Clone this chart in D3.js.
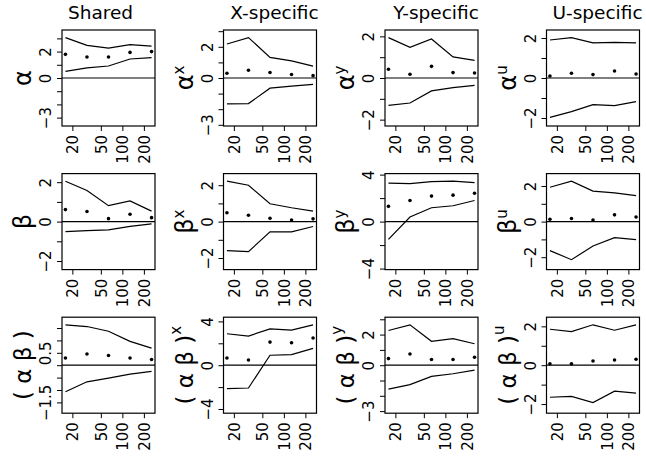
<!DOCTYPE html>
<html>
<head>
<meta charset="utf-8">
<script src="https://cdn.jsdelivr.net/npm/d3@7"></script>
<style>
  body { margin: 0; background: #fff; }
  svg { display: block; font-family: "DejaVu Sans", sans-serif; }
</style>
</head>
<body>
<div id="chart"></div>
<script>
// sample sizes on the (log) x axis and the labelled ticks
var sampleSizes = [16, 32, 64, 128, 256];
var xTicks = [20, 50, 100, 200];

var colTitles = ["Shared", "X-specific", "Y-specific", "U-specific"];
var colSup = ["", "x", "y", "u"];

// estimates and interval bounds, one inner array per column (shared, x, y, u)
var alphaUpper = [
  [3.06, 2.47, 2.27, 2.53, 2.42],
  [2.18, 2.59, 1.32, 1.10, 0.76],
  [1.94, 1.47, 1.87, 1.01, 0.85],
  [1.90, 2.02, 1.76, 1.78, 1.76]
];
var alphaEst = [
  [1.79, 1.59, 1.59, 1.94, 2.00],
  [0.30, 0.50, 0.35, 0.22, 0.15],
  [0.42, 0.18, 0.56, 0.26, 0.24],
  [0.10, 0.24, 0.17, 0.35, 0.20]
];
var alphaLower = [
  [0.50, 0.76, 0.91, 1.44, 1.54],
  [-1.66, -1.64, -0.65, -0.52, -0.41],
  [-1.31, -1.20, -0.62, -0.46, -0.35],
  [-1.97, -1.68, -1.33, -1.38, -1.18]
];

var betaUpper = [
  [2.05, 1.58, 0.81, 1.05, 0.53],
  [2.22, 2.00, 0.98, 0.76, 0.58],
  [3.27, 3.24, 3.41, 3.44, 3.32],
  [1.93, 2.27, 1.71, 1.61, 1.46]
];
var betaEst = [
  [0.61, 0.51, 0.15, 0.37, 0.20],
  [0.49, 0.35, 0.18, 0.09, 0.15],
  [1.30, 1.80, 2.17, 2.25, 2.42],
  [0.13, 0.17, 0.09, 0.38, 0.26]
];
var betaLower = [
  [-0.51, -0.46, -0.42, -0.24, -0.12],
  [-1.60, -1.65, -0.56, -0.56, -0.27],
  [-1.52, 0.39, 1.18, 1.35, 1.80],
  [-1.63, -2.14, -1.37, -0.90, -1.01]
];

var abUpper = [
  [1.63, 1.56, 1.37, 0.96, 0.69],
  [2.87, 2.66, 3.32, 3.20, 3.69],
  [2.27, 2.64, 1.56, 1.73, 1.40],
  [1.85, 1.73, 2.08, 1.80, 2.08]
];
var abEst = [
  [0.29, 0.45, 0.39, 0.29, 0.23],
  [0.66, 0.48, 2.11, 2.05, 2.48],
  [0.43, 0.73, 0.37, 0.37, 0.52],
  [0.07, 0.07, 0.22, 0.27, 0.31]
];
var abLower = [
  [-1.07, -0.67, -0.52, -0.36, -0.25],
  [-2.14, -2.08, 0.91, 0.97, 1.54],
  [-1.56, -1.27, -0.73, -0.56, -0.32],
  [-1.65, -1.61, -1.92, -1.34, -1.44]
];

// y tick spacing and which ticks carry a label
var yStep = [[1, 1, 1, 1], [1, 1, 2, 1], [0.5, 2, 1, 1]];
var yLabelled = [
  [[-3, 0, 2], [-3, 0, 2], [-2, 0, 2], [-2, 0, 2]],
  [[-2, 0, 2], [-2, 0, 2], [-4, 0, 4], [-2, 0, 2]],
  [[-1.5, 0.5], [-4, 0, 4], [-3, 0, 2], [-2, 0, 2]]
];

var rows = [
  { sym: "α", upper: alphaUpper, est: alphaEst, lower: alphaLower },
  { sym: "β", upper: betaUpper, est: betaEst, lower: betaLower },
  { sym: "( α β )", upper: abUpper, est: abEst, lower: abLower }
];

var svgWidth = 646;
var svgHeight = 457;

var colPitch = 161.5;
var rowPitch = 143.6;
var boxW = 93;
var boxH = 96;
var boxLeft0 = 62;
var boxTop0 = 30;
var titleX = [100.5, 274.5, 436, 597.5];

var svg = d3.select("#chart")
  .append("svg")
  .attr("width", svgWidth)
  .attr("height", svgHeight);

// column titles
colTitles.forEach(function(t, c) {
  svg.append("text")
    .attr("x", titleX[c])
    .attr("y", 19)
    .attr("text-anchor", "middle")
    .style("font-size", "18.5px")
    .text(t);
});

// log x scale, padded like R's 4% axis extension
var pad = Math.pow(2, 0.16);
var xScale = d3.scaleLog()
  .domain([d3.min(sampleSizes) / pad, d3.max(sampleSizes) * pad])
  .range([0, boxW]);

var fmt = d3.format("");

rows.forEach(function(row, r) {
  colTitles.forEach(function(t, c) {
    var g = svg.append("g")
      .attr("transform", `translate(${boxLeft0 + c * colPitch}, ${boxTop0 + r * rowPitch})`);

    var up = row.upper[c], est = row.est[c], lo = row.lower[c];
    var m = d3.max(up.concat(lo).concat(est), d => Math.abs(d));
    var lim = m * 1.1 * 1.08;

    var yScale = d3.scaleLinear()
      .domain([-lim, lim])
      .range([boxH, 0]);

    var step = yStep[r][c];
    var yt = d3.range(Math.ceil(-lim / step), Math.floor(lim / step) + 1).map(k => k * step);
    var labs = yLabelled[r][c];

    // y axis with vertical labels
    var leftAxis = d3.axisLeft(yScale)
      .tickValues(yt)
      .tickSize(5)
      .tickSizeOuter(0)
      .tickFormat(d => labs.some(v => Math.abs(v - d) < 1e-9) ? fmt(d) : "");
    var ya = g.append("g").call(leftAxis);
    ya.select(".domain").remove();
    ya.selectAll("line").attr("stroke", "#000");
    ya.selectAll("text")
      .attr("x", 0)
      .attr("y", -11)
      .attr("dy", 0)
      .attr("transform", "rotate(-90)")
      .attr("text-anchor", "middle")
      .attr("fill", "#000")
      .style("font-size", "15px")
      .style("font-family", "DejaVu Sans");

    // x axis with vertical labels
    var bottomAxis = d3.axisBottom(xScale)
      .tickValues(xTicks)
      .tickSize(5)
      .tickSizeOuter(0)
      .tickFormat(d3.format("d"));
    var xa = g.append("g")
      .attr("transform", `translate(0, ${boxH})`)
      .call(bottomAxis);
    xa.select(".domain").remove();
    xa.selectAll("line").attr("stroke", "#000");
    xa.selectAll("text")
      .attr("x", -9)
      .attr("y", 0)
      .attr("dy", "0.36em")
      .attr("transform", "rotate(-90)")
      .attr("text-anchor", "end")
      .attr("fill", "#000")
      .style("font-size", "15px")
      .style("font-family", "DejaVu Sans");

    // zero reference line
    g.append("line")
      .attr("x1", 0)
      .attr("x2", boxW)
      .attr("y1", yScale(0))
      .attr("y2", yScale(0))
      .attr("stroke", "#000")
      .attr("stroke-width", 1.2);

    var line = d3.line()
      .x((d, i) => xScale(sampleSizes[i]))
      .y(d => yScale(d));

    [up, lo].forEach(function(series) {
      g.append("path")
        .attr("d", line(series))
        .attr("fill", "none")
        .attr("stroke", "#000")
        .attr("stroke-width", 1.2);
    });

    g.selectAll("circle.est")
      .data(est)
      .enter()
      .append("circle")
      .attr("class", "est")
      .attr("cx", (d, i) => xScale(sampleSizes[i]))
      .attr("cy", d => yScale(d))
      .attr("r", 1.8)
      .attr("fill", "#000");

    // box round the plot region
    g.append("rect")
      .attr("width", boxW)
      .attr("height", boxH)
      .attr("fill", "none")
      .attr("stroke", "#000")
      .attr("stroke-width", 1.2);

    // y axis title with superscript
    var lab = g.append("text")
      .attr("transform", `translate(-31, ${boxH / 2}) rotate(-90)`)
      .attr("text-anchor", "middle")
      .style("font-size", r === 2 ? "23px" : "24px");
    lab.append("tspan").text(row.sym);
    if (colSup[c]) {
      lab.append("tspan")
        .attr("dy", r === 2 ? -12 : -9)
        .style("font-size", "15px")
        .text(colSup[c]);
    }
  });
});
</script>
</body>
</html>
